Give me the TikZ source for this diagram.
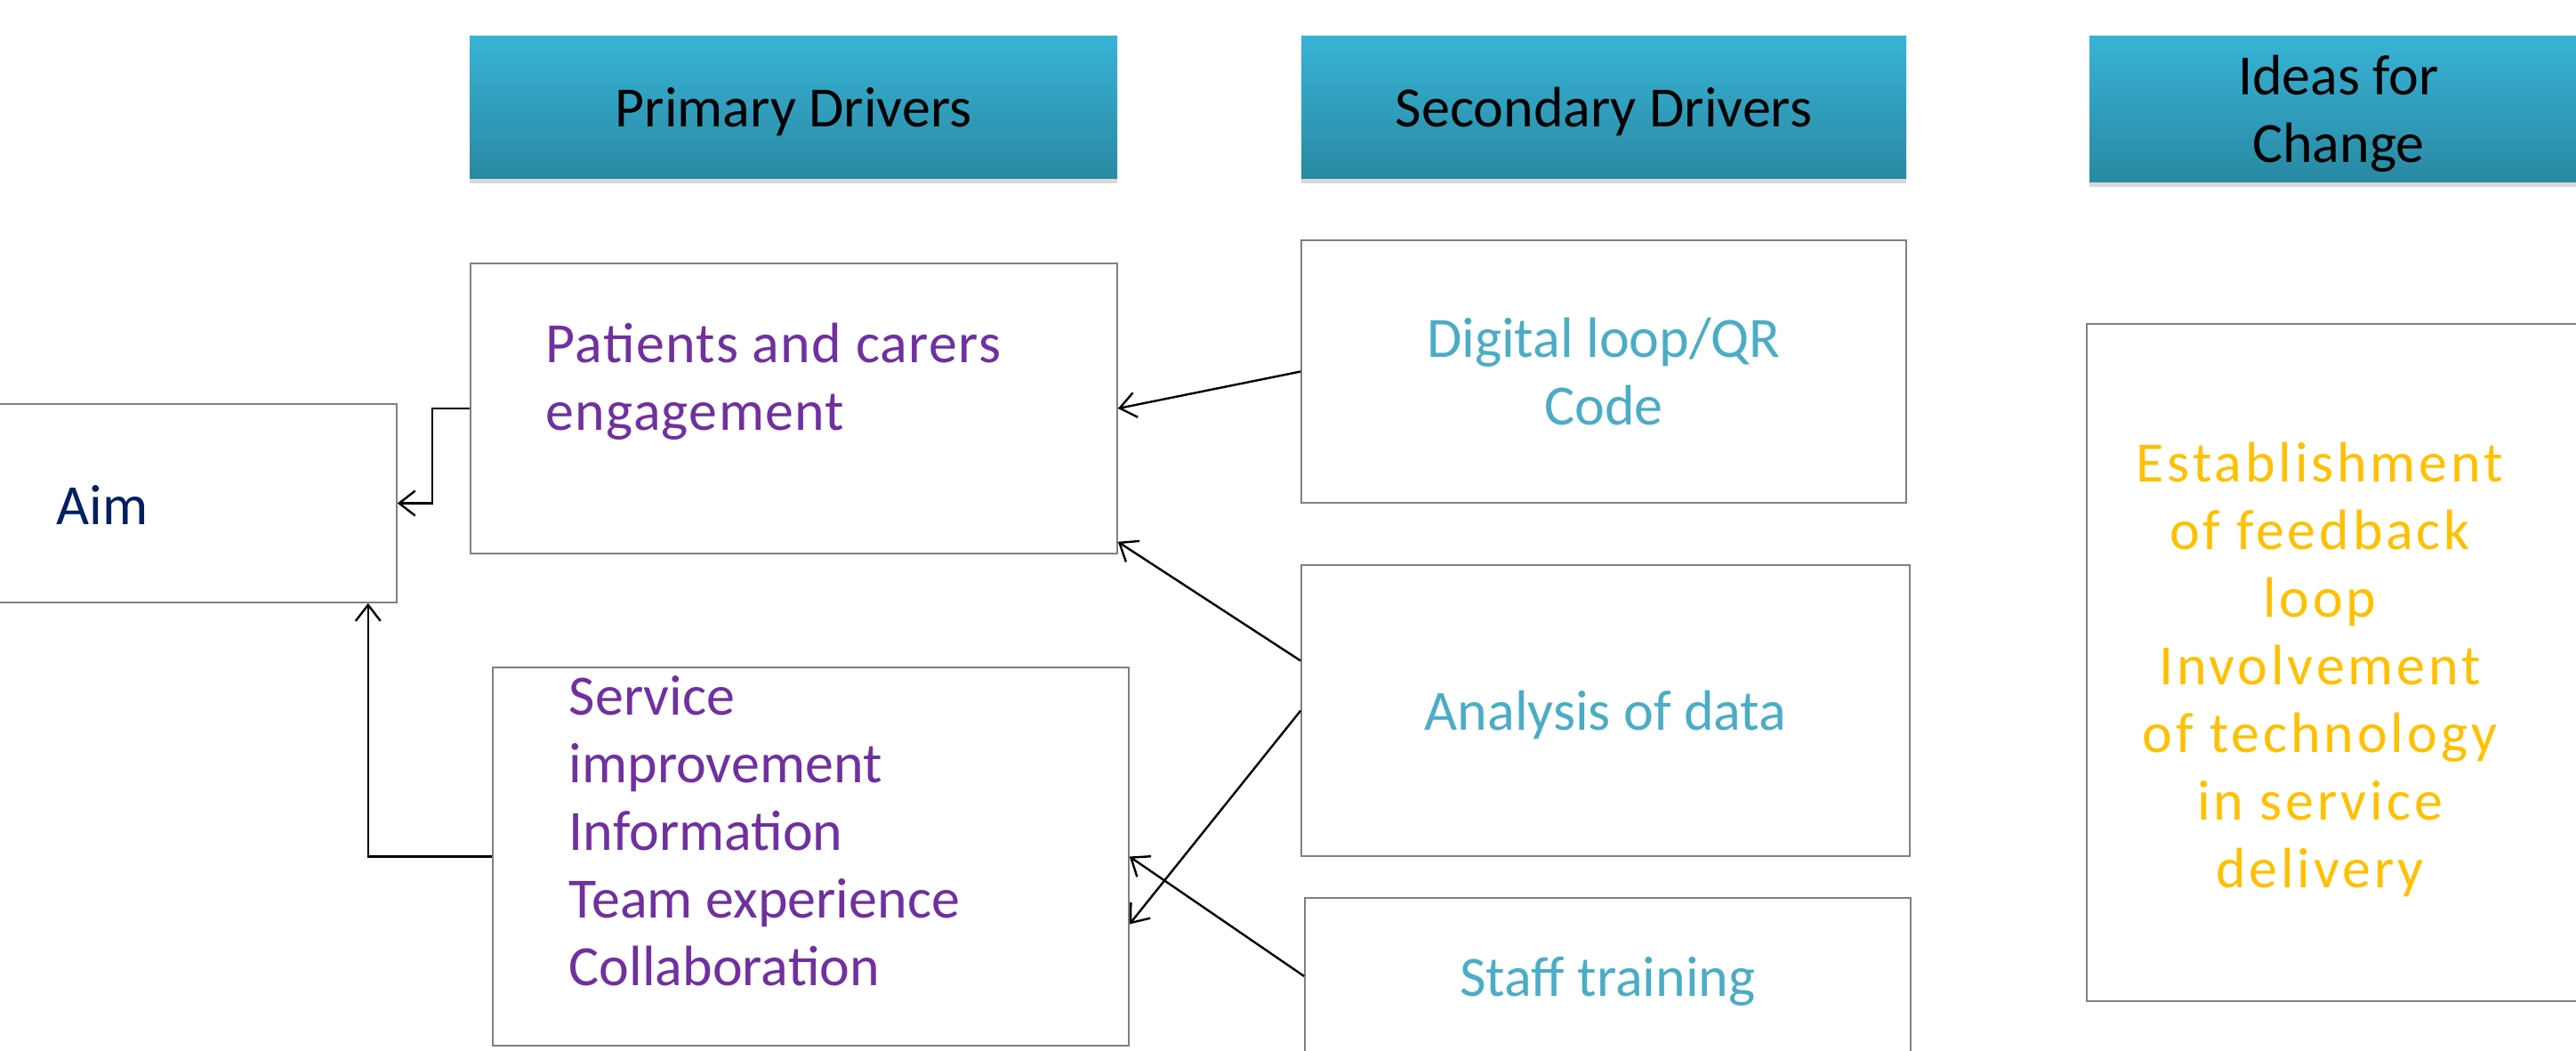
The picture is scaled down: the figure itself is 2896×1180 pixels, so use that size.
\documentclass[tikz,border=0pt]{standalone}
\usepackage{fontspec}
\setmainfont{Carlito}
\usepackage{tikz}
\usetikzlibrary{
  arrows.meta,
  positioning,
  shadows
}
\definecolor{headtop}{RGB}{56,179,214}
\definecolor{headbot}{RGB}{41,137,163}
\definecolor{framegray}{RGB}{128,128,128}
\definecolor{aimblue}{RGB}{0,32,96}
\definecolor{drvpurple}{RGB}{112,48,160}
\definecolor{secblue}{RGB}{75,172,198}
\definecolor{ideagold}{RGB}{255,192,0}

\tikzset{
  header/.style={top color=headtop, bottom color=headbot, draw=none, minimum height=40pt, align=center, text=black,
    text depth=0pt, drop shadow={shadow xshift=0pt, shadow yshift=-1.5pt, opacity=0.3}},
  frame/.style={draw=framegray, line width=0.4pt, fill=white, text depth=0pt},
  arr/.style={-{Straight Barb[length=4.5pt,width=7pt]}, line width=0.6pt, black}
}

\begin{document}
\begin{tikzpicture}[x=0.25pt, y=-0.25pt, inner sep=0pt, font=\fontsize{16}{19}\selectfont]
  \useasboundingbox (0,0) rectangle (2896,1180);
  \clip (0,0) rectangle (2896,1180);

  \node[header, minimum width=182pt] (hdpri) at (892,120) {Primary Drivers};
  \node[header, minimum width=170pt] (hdsec) at (1803,120) {Secondary Drivers};
  \node[header, minimum width=140pt, minimum height=41pt] (hdidea) at (2629,122) {Ideas for\\Change};

  \node[frame, minimum width=126.5pt, minimum height=55.75pt] (aim) at (193,565.5) {};
  \node[text=aimblue, anchor=west] (aimtxt) at (63,567) {Aim};

  \node[frame, minimum width=181.75pt, minimum height=81.5pt] (pat) at (892.5,459) {};
  \node[text=drvpurple, anchor=west, align=left, text depth=0pt,
    font=\fontsize{16}{19}\selectfont\addfontfeature{LetterSpace=2}] (pattxt) at (613,423) {Patients and carers\\engagement};

  \node[frame, minimum width=178.75pt, minimum height=106.25pt] (svc) at (911.5,962.5) {};
  \node[text=drvpurple, anchor=west, align=left] (svctxt) at (639,934)
    {Service\\improvement\\Information\\Team experience\\Collaboration};

  \node[frame, text=secblue, align=center, minimum width=170pt, minimum height=73.75pt] (dig) at (1803,417.5) {Digital loop/QR\\Code};
  \node[frame, text=secblue, minimum width=171pt, minimum height=81.75pt] (ana) at (1805,798.5) {Analysis of data};
  \node[frame, text=secblue, minimum width=170.25pt, minimum height=44pt] (stf) at (1807.5,1097) {Staff training};

  \node[frame, minimum width=153.5pt, minimum height=190.25pt] (ideas) at (2653,744.5) {};
  \node[text=ideagold, align=center,
    font=\fontsize{16}{19}\selectfont\addfontfeature{LetterSpace=6}] (ideastxt) at (2608,752)
    {Establishment\\of feedback\\loop\\Involvement\\of technology\\in service\\delivery};

  \draw[arr] (pat.west) -- ++(-42,0) |- (aim.east);
  \draw[arr] (svc.west) -| ([xshift=-8.25pt]aim.south east);
  \draw[arr] (dig.west) -- (pat.east);
  \draw[arr] ([yshift=14pt]ana.west) -- ([yshift=3.5pt]pat.south east);
  \draw[arr] (ana.west) -- ([yshift=-19pt]svc.east);
  \draw[arr] (stf.west) -- (svc.east);
\end{tikzpicture}
\end{document}
